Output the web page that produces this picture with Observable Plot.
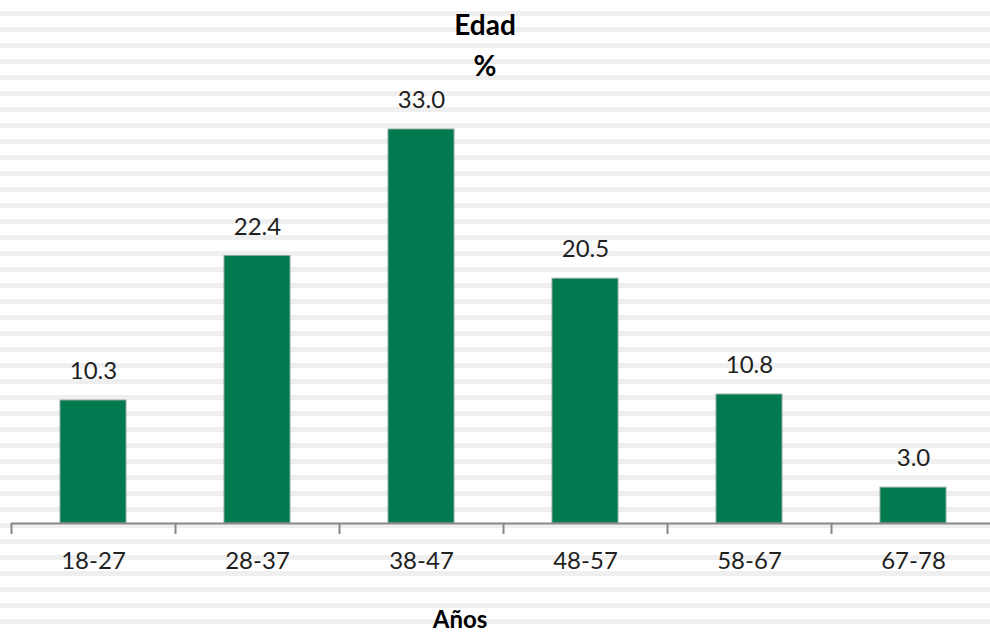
<!DOCTYPE html>
<html>
<head>
<meta charset="utf-8">
<script src="https://cdn.jsdelivr.net/npm/d3@7"></script>
<script src="https://cdn.jsdelivr.net/npm/@observablehq/plot@0.6"></script>
<style>
  html, body { margin: 0; padding: 0; }
  body {
    width: 990px; height: 634px; overflow: hidden;
    background: repeating-linear-gradient(to bottom, #ffffff 0px, #ffffff 11px, #efefef 11px, #efefef 16px);
    background-size: 100% 16px;
    background-position: 0 0;
  }
  #chart svg { display: block; background: transparent; }
</style>
</head>
<body>
<div id="chart"></div>
<script>
const categories = ["18-27", "28-37", "38-47", "48-57", "58-67", "67-78"];
const values = [10.3, 22.4, 33.0, 20.5, 10.8, 3.0];
const title = "Edad";
const subtitle = "%";
const xTitle = "Años";

const data = categories.map((c, i) => ({cat: c, val: values[i]}));
const font = "Lato, 'Open Sans', sans-serif";

const chart = Plot.plot({
  width: 990,
  height: 634,
  marginLeft: 11,
  marginRight: 0,
  marginTop: 0,
  marginBottom: 0,
  style: {fontFamily: font, background: "transparent", overflow: "visible"},
  x: {domain: categories, range: [11, 995], paddingInner: 0.6, paddingOuter: 0.3, axis: null},
  y: {domain: [0, 33], range: [523, 129], axis: null},
  marks: [
    Plot.barY(data, {x: "cat", y: "val", fill: "#027a50", stroke: "#8aa898", strokeWidth: 1}),
    Plot.ruleY([0], {stroke: "#888888", strokeWidth: 2}),
    Plot.ruleX(categories, {x: d => d, dx: -82, y1: 0, y2: -0.92, stroke: "#888888", strokeWidth: 2}),
    Plot.text(data, {x: "cat", y: "val", text: d => d.val.toFixed(1), dy: -29, fontSize: 24, fill: "#1f1f1f"}),
    Plot.text(categories, {x: d => d, y: 0, text: d => d, dy: 38, fontSize: 24, fill: "#1f1f1f"}),
    Plot.text([title], {frameAnchor: "top", lineAnchor: "middle", dy: 26, dx: -16, fontSize: 28, fontWeight: "bold", fill: "#000"}),
    Plot.text([subtitle], {frameAnchor: "top", lineAnchor: "middle", dy: 67, dx: -16, fontSize: 28, fontWeight: "bold", fill: "#000"}),
    Plot.text([xTitle], {frameAnchor: "bottom", lineAnchor: "middle", dy: -14, dx: -41, fontSize: 24, fontWeight: "bold", fill: "#000"})
  ]
});
document.getElementById("chart").append(chart);
</script>
</body>
</html>
